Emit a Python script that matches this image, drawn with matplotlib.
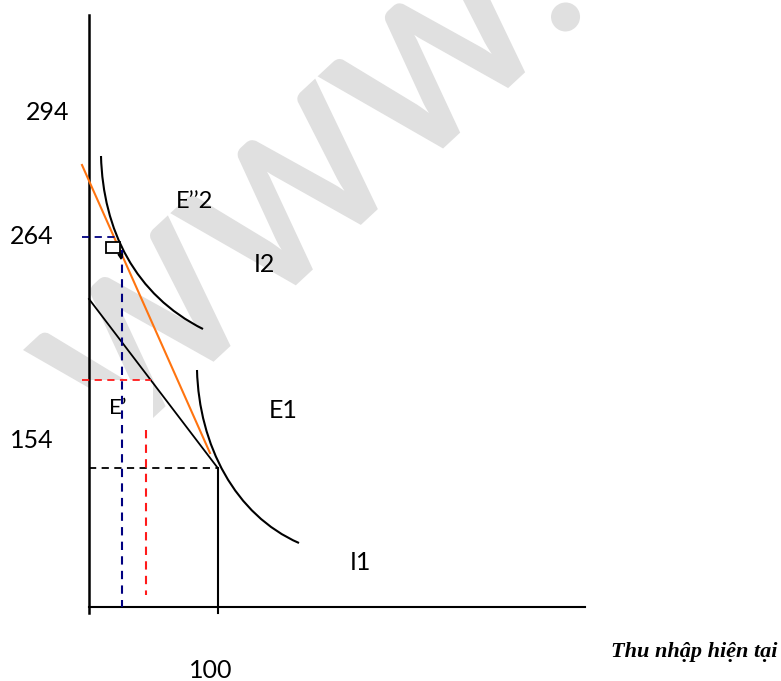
import math
import numpy as np
import matplotlib
matplotlib.use("Agg")
import matplotlib.pyplot as plt
from matplotlib.path import Path
from matplotlib.patches import PathPatch, Rectangle
from matplotlib.textpath import TextPath
from matplotlib.font_manager import FontProperties
from matplotlib.transforms import Affine2D

# chart units: x = distance right of the y axis, y = height above the x axis (px)
y_ticks = [494, 370, 166]
y_tick_x = [-41, -57, -57]
y_tick_labels = ["294", "264", "154"]
x_tick = 122
x_tick_label = "100"

# axes
y_axis_x = [0, 0]
y_axis_y = [592, -6]
x_axis_x = [0, 496]
x_axis_y = [0, 0]

# old equilibrium (E1) drop lines
e1_vert_x = [129, 129]
e1_vert_y = [139, -6]
e1_horiz_x = [0, 129]
e1_horiz_y = [139, 139]

# budget lines
budget1_x = [0, 128]
budget1_y = [308, 140]
budget2_x = [-7, 121]
budget2_y = [442, 154]

# indifference curves (cubic Bezier control points)
i2_ctrl = [(12, 451), (14, 377), (46, 312), (114, 278)]
i1_ctrl = [(108, 237), (110, 162), (146, 92), (210, 64)]

# E''2 drop lines (blue)
e2_horiz_x = [-7, 29]
e2_horiz_y = [370, 370]
e2_vert_x = [33, 33]
e2_vert_y = [357, 0]

# E' drop lines (red)
ep_horiz_x = [-7, 62]
ep_horiz_y = [227, 227]
ep_vert_x = [57, 57]
ep_vert_y = [177, 12]

# small marker box at E''2
marker_box = (17, 354, 14, 11)

labels = [
    ("E\u2019\u20192", 106, 406, 17),
    ("I2", 175, 342, 18),
    ("E1", 194, 197, 18),
    ("E\u2019", 29, 199, 16),
    ("I1", 271, 45, 18),
]

fig = plt.figure(figsize=(7.81, 6.81), dpi=100)
ax = fig.add_axes([0, 0, 1, 1])
ax.set_xlim(-89, 692)
ax.set_ylim(-74, 607)
ax.axis("off")

# watermark: "WWW." mapped so the first W's corner and the dot sit where they are in the original
tp = TextPath((0, 0), "WWW.", size=1, prop=FontProperties(family="Lato", weight="bold"))
ext = tp.get_extents()
starts = [i for i, c in enumerate(tp.codes) if c == Path.MOVETO]
dot = tp.vertices[starts[-1]:]
src_a = np.array([ext.x0, ext.y1])
src_b = dot.mean(axis=0)
dst_a = np.array([-66.0, 257.0])
dst_b = np.array([476.0, 589.0])
vs, vd = src_b - src_a, dst_b - dst_a
scale = np.hypot(*vd) / np.hypot(*vs)
ang = math.atan2(vd[1], vd[0]) - math.atan2(vs[1], vs[0])
tr = Affine2D().translate(*(-src_a)).scale(scale).rotate(ang).translate(*dst_a)
ax.add_patch(PathPatch(tr.transform_path(tp), facecolor="#e0e0e0", edgecolor="none", zorder=0))

# white text box behind E'
ax.add_patch(Rectangle((0, 177), 64, 50, facecolor="white", edgecolor="none", zorder=1))

ax.plot(y_axis_x, y_axis_y, color="black", lw=1.8, zorder=3)
ax.plot(x_axis_x, x_axis_y, color="black", lw=1.5, zorder=3)
ax.plot(e1_vert_x, e1_vert_y, color="black", lw=1.5, zorder=3)
ax.plot(e1_horiz_x, e1_horiz_y, color="black", lw=1.3, ls=(0, (4, 3)), zorder=3)

ax.plot(budget1_x, budget1_y, color="black", lw=1.3, zorder=3)
ax.plot(budget2_x, budget2_y, color="#ff7410", lw=1.5, zorder=3)

codes = [Path.MOVETO, Path.CURVE4, Path.CURVE4, Path.CURVE4]
for ctrl in (i2_ctrl, i1_ctrl):
    ax.add_patch(PathPatch(Path(ctrl, codes), facecolor="none", edgecolor="black",
                           lw=1.5, zorder=3))

ax.plot(e2_horiz_x, e2_horiz_y, color="#000080", lw=1.3, ls=(0, (4, 3)), zorder=3)
ax.plot(e2_vert_x, e2_vert_y, color="#000080", lw=1.5, ls=(0, (4, 3)), zorder=3)
ax.plot(ep_horiz_x, ep_horiz_y, color="#ff1a1a", lw=1.3, ls=(0, (4, 3)), zorder=3)
ax.plot(ep_vert_x, ep_vert_y, color="#ff1a1a", lw=1.5, ls=(0, (4, 3)), zorder=3)

bx, by, bw, bh = marker_box
ax.add_patch(Rectangle((bx, by), bw, bh, facecolor="white", edgecolor="black",
                       lw=1.3, zorder=4))
ax.annotate("", xy=(32.5, 344), xytext=(31, 356),
            arrowprops=dict(arrowstyle="-|>", lw=1, color="black", mutation_scale=8),
            zorder=4)

for val, tx, lab in zip(y_ticks, y_tick_x, y_tick_labels):
    ax.text(tx, val, lab, fontsize=18, fontfamily="Lato", ha="center", va="center")
ax.text(x_tick, -64, x_tick_label, fontsize=18, fontfamily="Lato", ha="center", va="center")

for txt, x, y, fs in labels:
    ax.text(x, y, txt, fontsize=fs, fontfamily="Lato", ha="center", va="center", zorder=5)

ax.text(688, -45, "Thu nh\u1eadp hi\u1ec7n t\u1ea1i", fontsize=16, fontfamily="Liberation Serif",
        fontweight="bold", fontstyle="italic", ha="right", va="center")

fig.savefig("out.png", dpi=100)
